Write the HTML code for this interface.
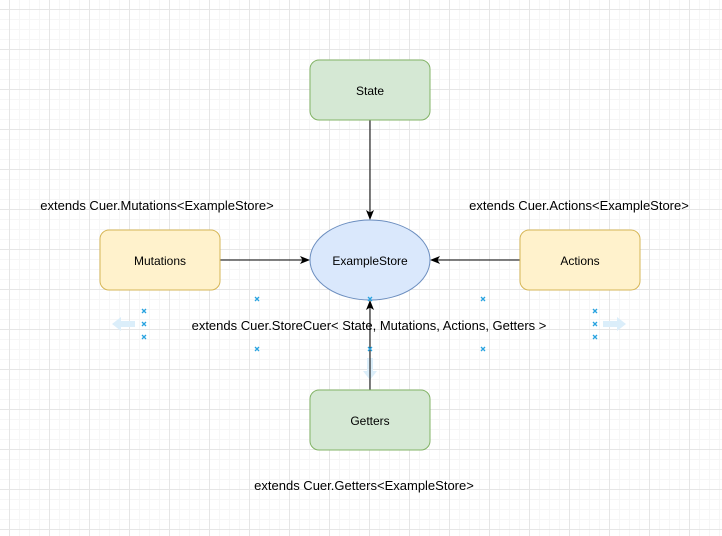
<!DOCTYPE html>
<html><head><meta charset="utf-8"><style>
html,body{margin:0;padding:0;background:#fff;}
svg{display:block;}
text{font-family:"Liberation Sans",Arial,sans-serif;font-size:12px;fill:#000;}
.lb{font-size:13px;}
</style></head><body>
<svg width="722" height="536" xmlns="http://www.w3.org/2000/svg">
<defs>
<pattern id="minor" x="9" y="9" width="10" height="10" patternUnits="userSpaceOnUse">
<path d="M0 0.5H10M0.5 0V10" stroke="#f6f6f6" stroke-width="1" fill="none"/>
</pattern>
<pattern id="major" x="9" y="9" width="40" height="40" patternUnits="userSpaceOnUse">
<path d="M0 0.5H40M0.5 0V40" stroke="#e6e6e6" stroke-width="1" fill="none"/>
</pattern>
<marker id="ah" markerWidth="10" markerHeight="8" refX="9" refY="4" orient="auto" markerUnits="userSpaceOnUse">
<path d="M0 0L10 4L0 8L2.5 4Z" fill="#000"/>
</marker>
</defs>
<rect width="722" height="536" fill="url(#minor)"/>
<rect width="722" height="536" fill="url(#major)"/>

<g fill="#dbeefa">
<path d="M112 324L121 317V321H135V327H121V331Z"/>
<path d="M626 324L617 317V321H603V327H617V331Z"/>
<path d="M370 380L363 371H367V358H373V371H377Z"/>
</g>

<line x1="370" y1="120" x2="370" y2="219" stroke="#000" marker-end="url(#ah)"/>
<line x1="220" y1="260" x2="309" y2="260" stroke="#000" marker-end="url(#ah)"/>
<line x1="520" y1="260" x2="431" y2="260" stroke="#000" marker-end="url(#ah)"/>
<line x1="370" y1="390" x2="370" y2="301" stroke="#000" marker-end="url(#ah)"/>

<rect x="310" y="60" width="120" height="60" rx="9" fill="#d5e8d4" stroke="#82b366"/>
<text x="370" y="95" text-anchor="middle">State</text>
<rect x="100" y="230" width="120" height="60" rx="9" fill="#fff2cc" stroke="#d6b656"/>
<text x="160" y="265" text-anchor="middle">Mutations</text>
<rect x="520" y="230" width="120" height="60" rx="9" fill="#fff2cc" stroke="#d6b656"/>
<text x="580" y="265" text-anchor="middle">Actions</text>
<rect x="310" y="390" width="120" height="60" rx="9" fill="#d5e8d4" stroke="#82b366"/>
<text x="370" y="425" text-anchor="middle">Getters</text>
<ellipse cx="370" cy="260" rx="60" ry="40" fill="#dae8fc" stroke="#6c8ebf"/>
<text x="370" y="265" text-anchor="middle">ExampleStore</text>

<text class="lb" x="157" y="210" text-anchor="middle">extends Cuer.Mutations&lt;ExampleStore&gt;</text>
<text class="lb" x="579" y="210" text-anchor="middle">extends Cuer.Actions&lt;ExampleStore&gt;</text>
<text class="lb" x="369" y="330" text-anchor="middle">extends Cuer.StoreCuer&lt; State, Mutations, Actions, Getters &gt;</text>
<text class="lb" x="364" y="490" text-anchor="middle">extends Cuer.Getters&lt;ExampleStore&gt;</text>

<g stroke="#29a3e0" stroke-width="1.3">
<path d="M142 309l4 4m0 -4l-4 4M142 322l4 4m0 -4l-4 4M142 335l4 4m0 -4l-4 4"/>
<path d="M593 309l4 4m0 -4l-4 4M593 322l4 4m0 -4l-4 4M593 335l4 4m0 -4l-4 4"/>
<path d="M255 297l4 4m0 -4l-4 4M255 347l4 4m0 -4l-4 4"/>
<path d="M481 297l4 4m0 -4l-4 4M481 347l4 4m0 -4l-4 4"/>
<path d="M368 297l4 4m0 -4l-4 4M368 347l4 4m0 -4l-4 4"/>
</g>
</svg>
</body></html>
